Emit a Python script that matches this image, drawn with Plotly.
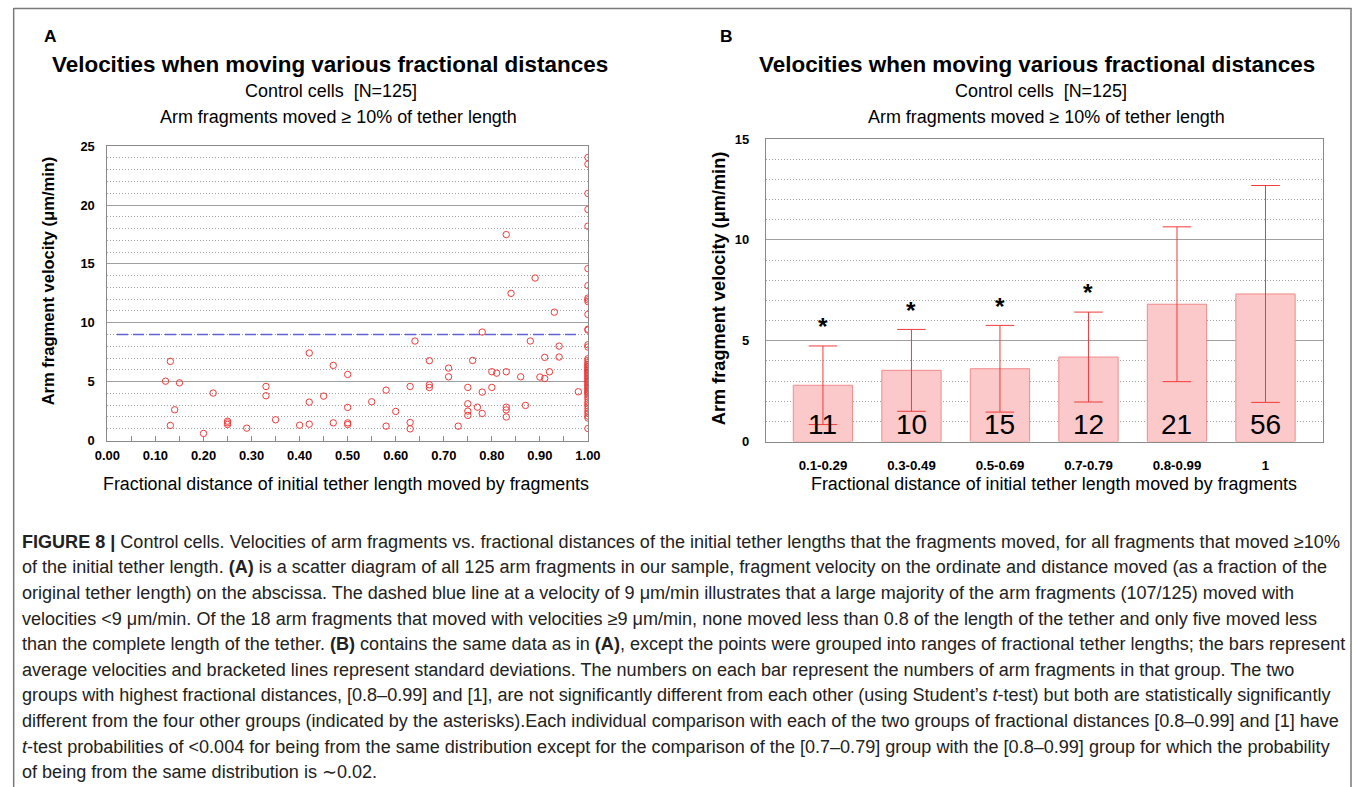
import plotly.graph_objects as go

# ---------------- data ----------------
# Panel A: scatter of fractional distance vs velocity (um/min)
frac_A = [0.131, 0.121, 0.150, 0.220, 0.140, 0.131, 0.25, 0.25, 0.25, 0.20, 0.29,
          0.33, 0.33, 0.35, 0.40, 0.42, 0.42, 0.42, 0.45, 0.47, 0.47,
          0.50, 0.50, 0.50, 0.50, 0.55, 0.58, 0.58, 0.60, 0.63, 0.63, 0.63, 0.64, 0.67, 0.67, 0.67,
          0.73, 0.71, 0.71, 0.75, 0.75, 0.75, 0.75, 0.76, 0.77, 0.78, 0.78, 0.78,
          0.80, 0.80, 0.81, 0.83, 0.83, 0.83, 0.83, 0.83, 0.84, 0.86, 0.87, 0.88, 0.89, 0.90,
          0.91, 0.91, 0.92, 0.93, 0.94, 0.94, 0.98]
vel_A = [6.72, 5.04, 4.90, 4.03, 2.61, 1.28, 1.64, 1.36, 1.50, 0.60, 1.05,
         4.59, 3.80, 1.76, 1.30, 1.39, 7.43, 3.26, 3.77, 6.38, 1.50,
         5.61, 2.81, 1.50, 1.36, 3.29, 4.28, 1.22, 2.47, 4.59, 1.53, 0.99, 8.45, 6.78, 4.73, 4.50,
         1.22, 6.15, 5.41, 4.51, 3.12, 2.50, 2.13, 6.80, 2.83, 9.21, 4.11, 2.30,
         5.84, 4.51, 5.72, 17.49, 5.84, 2.83, 2.60, 2.00, 12.50, 5.41, 2.98, 8.45, 13.80, 5.39,
         7.06, 5.27, 5.84, 10.90, 8.02, 7.09, 4.14]
# fragments that moved the full tether length (fraction = 1.00)
vel_full = [24.04, 23.47, 20.98, 19.62, 18.20, 14.60, 13.15, 12.10, 11.95, 11.80, 10.71, 9.38, 9.45,
            8.13, 7.94, 6.95, 6.80, 1.02,
            6.62, 6.48, 6.41, 6.27, 6.22, 6.08, 5.98, 5.91, 5.79, 5.72, 5.63, 5.50, 5.43, 5.31,
            5.22, 5.08, 5.01, 4.93, 4.79, 4.71, 4.62, 4.49, 4.42, 4.31, 4.18, 4.12, 4.02, 3.88,
            3.71, 3.52, 3.28, 3.11, 2.93, 2.71, 2.48, 2.30, 2.08, 1.91]
frac_full = [1.00] * len(vel_full)
threshold = 9

# Panel B: grouped means and standard deviations
bins = ["0.1-0.29", "0.3-0.49", "0.5-0.69", "0.7-0.79", "0.8-0.99", "1"]
mean_vel = [2.79, 3.53, 3.61, 4.19, 6.81, 7.32]
sd_vel = [1.95, 2.03, 2.15, 2.23, 3.84, 5.38]
counts = [11, 10, 15, 12, 21, 56]
significant = [True, True, True, True, False, False]

# ---------------- helpers ----------------
# the captured page is shown slightly reduced and offset; lay out in target
# screen pixels and convert to figure pixels
S, CX, CY = 0.98, 13.0, 7.0
W, H = 1376, 796
def fx(x):
    return (x - CX) / S
def fy(y):
    return (y - CY) / S
def px(x):
    return fx(x) / W
def py(y):
    return 1 - fy(y) / H
def sz(v):
    return v / S

FONT = "Liberation Sans, Arial, Helvetica, sans-serif"
GRID = "#a0a0a0"
RED = "#f23a3a"

fig = go.Figure()

fig.add_trace(go.Scatter(x=frac_A + frac_full, y=vel_A + vel_full, mode="markers",
                         marker=dict(symbol="circle-open", size=sz(6.3), color=RED, line=dict(width=1, color=RED)),
                         xaxis="x", yaxis="y", hoverinfo="x+y"))
fig.add_trace(go.Scatter(x=[0.02, 0.975], y=[threshold, threshold], mode="lines",
                         line=dict(color="#6262d8", dash="11px,5px", width=1.5),
                         xaxis="x", yaxis="y", hoverinfo="skip"))

fig.add_trace(go.Bar(x=list(range(len(bins))), y=mean_vel, width=0.67,
                     marker=dict(color="#fbc9c9", line=dict(color="#f28a8a", width=1)),
                     error_y=dict(type="data", array=sd_vel, color=RED, thickness=1, width=sz(14)),
                     xaxis="x2", yaxis="y2"))

axis_common = dict(showline=True, linecolor="#8a8a8a", linewidth=1, mirror=True, zeroline=False)
tickf = dict(size=sz(12.7), family=FONT, weight="bold")

fig.update_layout(
    width=W, height=H, margin=dict(l=0, r=0, t=0, b=0),
    paper_bgcolor="white", plot_bgcolor="white", showlegend=False,
    font=dict(family=FONT, color="black"),
    xaxis=dict(domain=[px(107.3), px(587.3)], range=[0, 1], anchor="y",
               tickmode="linear", tick0=0, dtick=0.1, tickformat=".2f",
               ticks="inside", ticklen=5, tickcolor="#8a8a8a",
               minor=dict(dtick=0.05, ticks="inside", ticklen=5, tickcolor="#8a8a8a", showgrid=False),
               showgrid=False, tickfont=tickf,
               ticklabelstandoff=3, **axis_common),
    yaxis=dict(domain=[py(440), py(146)], range=[0, 25], anchor="x",
               tickmode="linear", tick0=0, dtick=5, ticks="",
               showgrid=True, gridcolor=GRID, gridwidth=1,
               minor=dict(dtick=1, showgrid=True, gridcolor=GRID, griddash="1px,2px", gridwidth=1),
               tickfont=tickf, ticklabelstandoff=9,
               **axis_common),
    xaxis2=dict(domain=[px(765), px(1322)], range=[-0.645, 5.655], anchor="y2",
                tickmode="array", tickvals=list(range(len(bins))), ticktext=bins,
                ticks="", showgrid=False,
                tickfont=dict(size=sz(13), family=FONT, weight="bold"), ticklabelstandoff=12,
                **axis_common),
    yaxis2=dict(domain=[py(441), py(139)], range=[0, 15], anchor="x2",
                tickmode="linear", tick0=0, dtick=5, ticks="",
                showgrid=True, gridcolor=GRID, gridwidth=1,
                minor=dict(dtick=1, showgrid=True, gridcolor=GRID, griddash="1px,2px", gridwidth=1),
                tickfont=tickf, ticklabelstandoff=13,
                **axis_common),
)

ann = []
def text(x, y, t, size, bold=False, xanchor="center", yanchor="middle", angle=0, color="black", ref="paper", family=FONT):
    d = dict(x=x, y=y, xref=ref if ref == "paper" else ref[0], yref=ref if ref == "paper" else ref[1],
             text=t, showarrow=False, xanchor=xanchor, yanchor=yanchor, textangle=angle,
             font=dict(size=sz(size), color=color, family=family, weight="bold" if bold else "normal"))
    ann.append(d)

# Panel A titles
text(px(42), py(36), "A", 17, bold=True, xanchor="left")
text(px(330), py(64), "Velocities when moving various fractional distances", 22, bold=True)
text(px(331), py(91), "Control cells \u00a0[N=125]", 17.6)
text(px(338), py(117), "Arm fragments moved \u2265 10% of tether length", 17.6)
text(px(48), py(281), "Arm fragment velocity (\u03bcm/min)", 16.2, bold=True, angle=-90)
text(px(346), py(483), "Fractional distance of initial tether length moved by fragments", 17.5)

# Panel B titles
text(px(717), py(36), "B", 17, bold=True, xanchor="left")
text(px(1036), py(64), "Velocities when moving various fractional distances", 22, bold=True)
text(px(1040), py(91), "Control cells \u00a0[N=125]", 17.6)
text(px(1045), py(117), "Arm fragments moved \u2265 10% of tether length", 17.6)
text(px(719), py(288), "Arm fragment velocity (\u03bcm/min)", 17.8, bold=True, angle=-90)
text(px(1053), py(483), "Fractional distance of initial tether length moved by fragments", 17.5)

# counts on bars and asterisks
for i, (c, m, s, sig) in enumerate(zip(counts, mean_vel, sd_vel, significant)):
    text(i, 0.82, str(c), 27.5, ref=("x2", "y2"))
    if sig:
        text(i, m + s + 0.95, "*", 24, bold=True, ref=("x2", "y2"))

# caption
caption = [
    "<b>FIGURE 8 |</b> Control cells. Velocities of arm fragments vs. fractional distances of the initial tether lengths that the fragments moved, for all fragments that moved \u226510%",
    "of the initial tether length. <b>(A)</b> is a scatter diagram of all 125 arm fragments in our sample, fragment velocity on the ordinate and distance moved (as a fraction of the",
    "original tether length) on the abscissa. The dashed blue line at a velocity of 9 \u03bcm/min illustrates that a large majority of the arm fragments (107/125) moved with",
    "velocities &lt;9 \u03bcm/min. Of the 18 arm fragments that moved with velocities \u22659 \u03bcm/min, none moved less than 0.8 of the length of the tether and only five moved less",
    "than the complete length of the tether. <b>(B)</b> contains the same data as in <b>(A)</b>, except the points were grouped into ranges of fractional tether lengths; the bars represent",
    "average velocities and bracketed lines represent standard deviations. The numbers on each bar represent the numbers of arm fragments in that group. The two",
    "groups with highest fractional distances, [0.8\u20130.99] and [1], are not significantly different from each other (using Student\u2019s <i>t</i>-test) but both are statistically significantly",
    "different from the four other groups (indicated by the asterisks).Each individual comparison with each of the two groups of fractional distances [0.8\u20130.99] and [1] have",
    "<i>t</i>-test probabilities of &lt;0.004 for being from the same distribution except for the comparison of the [0.7\u20130.79] group with the [0.8\u20130.99] group for which the probability",
    "of being from the same distribution is \u223c0.02.",
]
for i, line in enumerate(caption):
    text(px(20), py(541 + 25.6 * i), line, 17.7, xanchor="left", color="#222222")

fig.update_layout(annotations=ann)

# figure frame
for x0, y0, x1, y1 in [(8, 8.5, 1350, 8.5), (8.5, 8, 8.5, 800), (1349.5, 8, 1349.5, 800)]:
    fig.add_shape(type="line", xref="paper", yref="paper",
                  x0=max(px(x0), 0.0005), y0=py(y0), x1=max(px(x1), 0.0005), y1=py(y1),
                  line=dict(color="#7a7a7a", width=1.5))

fig.write_html("out.html")
